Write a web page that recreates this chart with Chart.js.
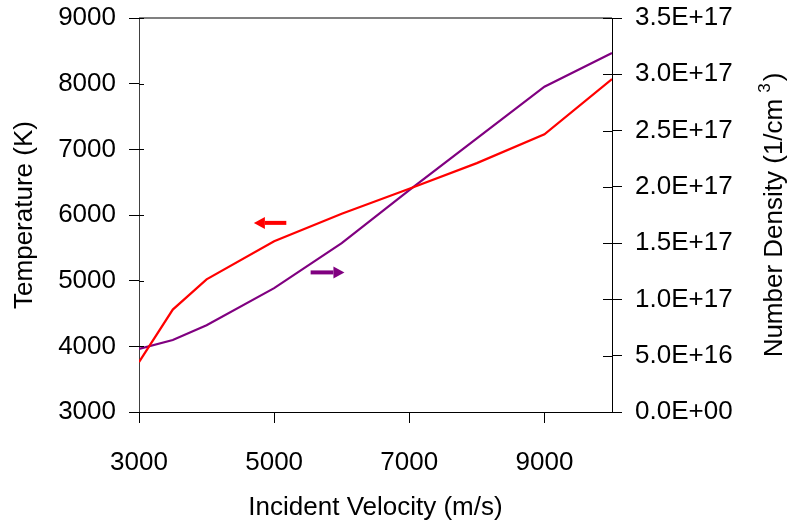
<!DOCTYPE html>
<html><head><meta charset="utf-8">
<script src="https://cdn.jsdelivr.net/npm/chart.js@4/dist/chart.umd.min.js"></script>
<style>html,body{margin:0;padding:0;background:#fff}#wrap{width:788px;height:523px}</style>
</head><body><div id="wrap"><canvas id="c" width="788" height="523"></canvas></div>
<script>
const velocity = [3000, 3500, 4000, 5000, 6000, 7000, 8000, 9000, 10000];
const temperature = [3760, 4560, 5020, 5600, 6020, 6400, 6790, 7230, 8070];
const density = [5.6e16, 6.4e16, 7.7e16, 1.1e17, 1.5e17, 1.97e17, 2.43e17, 2.89e17, 3.19e17];
const xTickValues = [3000, 5000, 7000, 9000];
const xTitle = 'Incident Velocity (m/s)';
const yTitle = 'Temperature (K)';
const y2Title = ['Number Density (1/cm', '3', ')'];
// arrows: [xStart, xEnd, yValue, axisId, colour] (head at xEnd)
const arrows = [
  [5180, 4700, 5880, 'y', '#FF0000'],
  [5540, 6040, 1.24e17, 'y2', '#800080']
];

const FONT = '"Liberation Sans", Arial, sans-serif';
const FS = 26;

function sci(v){
  if (v === 0) return '0.0E+00';
  let s = v.toExponential(1).toUpperCase();
  const m = s.match(/^(.*)E([+-])(\d+)$/);
  return m[1] + 'E' + m[2] + m[3].padStart(2,'0');
}
function noPad(s){ s.paddingTop = 0; s.paddingBottom = 0; }

const decor = {
  id: 'decor',
  afterDatasetsDraw(chart){
    const ctx = chart.ctx, ca = chart.chartArea, sx = chart.scales.x;
    ctx.save();
    ctx.strokeStyle = '#808080'; ctx.lineWidth = 2;
    ctx.beginPath(); ctx.moveTo(ca.left, ca.top); ctx.lineTo(ca.right, ca.top); ctx.stroke();
    ctx.strokeStyle = '#000'; ctx.lineWidth = 1;
    chart.scales.y.ticks.forEach(t => {
      const py = Math.round(chart.scales.y.getPixelForValue(t.value)) + 0.5;
      ctx.beginPath(); ctx.moveTo(ca.left, py); ctx.lineTo(ca.left + 5, py); ctx.stroke();
    });
    chart.scales.y2.ticks.forEach(t => {
      const py = Math.round(chart.scales.y2.getPixelForValue(t.value)) + 0.5;
      ctx.beginPath(); ctx.moveTo(ca.right - 9, py); ctx.lineTo(ca.right, py); ctx.stroke();
    });
    arrows.forEach(a => {
      const sy = chart.scales[a[3]];
      const x0 = sx.getPixelForValue(a[0]), x1 = sx.getPixelForValue(a[1]);
      const y = sy.getPixelForValue(a[2]);
      const dir = Math.sign(x1 - x0);
      const head = 11;
      ctx.fillStyle = a[4]; ctx.strokeStyle = a[4];
      ctx.lineWidth = 4;
      ctx.beginPath(); ctx.moveTo(x0, y); ctx.lineTo(x1 - dir*head, y); ctx.stroke();
      ctx.beginPath(); ctx.moveTo(x1, y); ctx.lineTo(x1 - dir*head, y - 6); ctx.lineTo(x1 - dir*head, y + 6); ctx.closePath(); ctx.fill();
    });
    const cy = (ca.top + ca.bottom) / 2;
    ctx.translate(775, cy);
    ctx.rotate(-Math.PI/2);
    ctx.fillStyle = '#000';
    ctx.textBaseline = 'middle';
    ctx.font = FS + 'px ' + FONT;
    const w0 = ctx.measureText(y2Title[0]).width;
    const w2 = ctx.measureText(y2Title[2]).width;
    ctx.font = Math.round(FS*0.65) + 'px ' + FONT;
    const w1 = ctx.measureText(y2Title[1]).width;
    const gap = 6;
    const total = w0 + gap + w1 + 2 + w2;
    let xx = -total/2;
    ctx.textAlign = 'left';
    ctx.font = FS + 'px ' + FONT;
    ctx.fillText(y2Title[0], xx, 0); xx += w0 + gap;
    ctx.font = Math.round(FS*0.65) + 'px ' + FONT;
    ctx.fillText(y2Title[1], xx, -10); xx += w1 + 2;
    ctx.font = FS + 'px ' + FONT;
    ctx.fillText(y2Title[2], xx, 0);
    ctx.restore();
  }
};

new Chart(document.getElementById('c'), {
  type: 'line',
  data: {
    datasets: [
      { label: 'Temperature', data: velocity.map((v,i)=>({x:v, y:temperature[i]})), yAxisID: 'y',
        borderColor: '#FF0000', borderWidth: 2.2, pointRadius: 0, tension: 0, fill: false },
      { label: 'Number Density', data: velocity.map((v,i)=>({x:v, y:density[i]})), yAxisID: 'y2',
        borderColor: '#800080', borderWidth: 2.2, pointRadius: 0, tension: 0, fill: false }
    ]
  },
  options: {
    responsive: false, animation: false, devicePixelRatio: 1,
    layout: { padding: { top: 18, right: 0, left: 0, bottom: 0 } },
    plugins: { legend: { display: false }, tooltip: { enabled: false } },
    scales: {
      x: {
        type: 'linear', min: 3000, max: 10000,
        afterBuildTicks: s => { s.ticks = xTickValues.map(v => ({value: v})); },
        afterFit: s => { s.height = 111; s.paddingLeft = 0; s.paddingRight = 0; },
        grid: { drawOnChartArea: false, tickLength: 11, color: '#000', lineWidth: 1 },
        border: { color: '#000', width: 1 },
        ticks: { color: '#000', font: { family: FONT, size: FS }, padding: 24, maxRotation: 0, autoSkip: false,
                 callback: v => String(v) },
        title: { display: true, text: xTitle, color: '#000', font: { family: FONT, size: FS }, padding: { top: 0, bottom: 0 } }
      },
      y: {
        position: 'left', min: 3000, max: 9000,
        afterFit: s => { s.width = 139; noPad(s); },
        grid: { drawOnChartArea: false, tickLength: 10, color: '#000', lineWidth: 1 },
        border: { color: '#404040', width: 1 },
        ticks: { stepSize: 1000, color: '#000', font: { family: FONT, size: FS }, padding: 13,
                 callback: v => String(v) },
        title: { display: true, text: yTitle, color: '#000', font: { family: FONT, size: FS }, padding: { top: 9, bottom: 0 } }
      },
      y2: {
        position: 'right', min: 0, max: 3.5e17,
        afterFit: s => { s.width = 176; noPad(s); },
        grid: { drawOnChartArea: false, tickLength: 10, color: '#000', lineWidth: 1 },
        border: { color: '#000', width: 1 },
        ticks: { stepSize: 5e16, color: '#000', font: { family: FONT, size: FS }, padding: 13,
                 callback: v => sci(v) },
        title: { display: false }
      }
    }
  },
  plugins: [decor]
});
</script></body></html>
